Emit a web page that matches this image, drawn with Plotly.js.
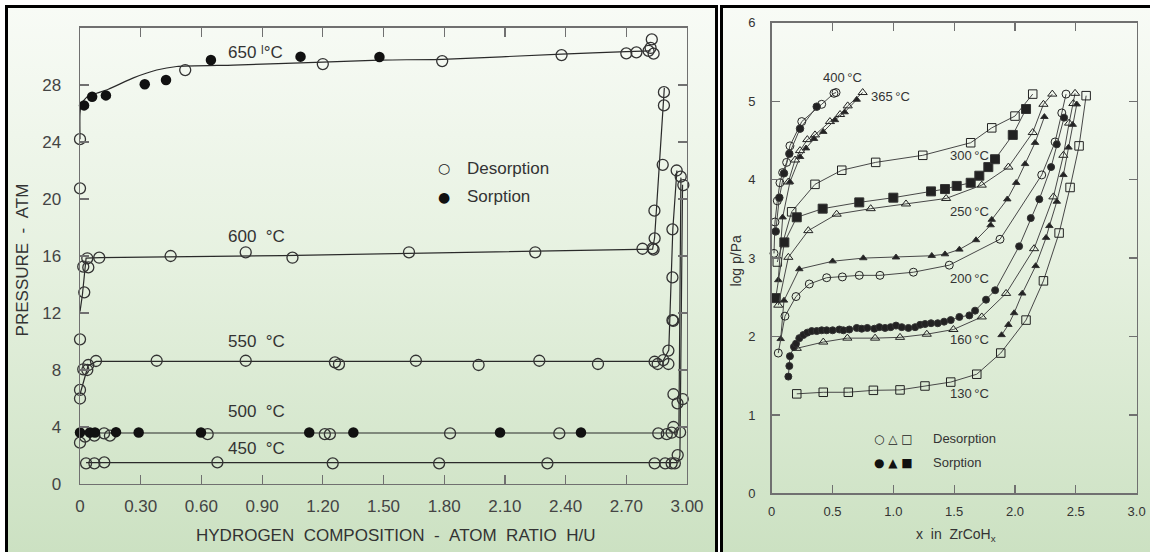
<!DOCTYPE html>
<html><head><meta charset="utf-8">
<script src="https://cdn.plot.ly/plotly-3.0.1.min.js"></script>
<style>
html,body{margin:0;padding:0;background:#fff;}
#wrap{position:relative;width:1150px;height:552px;overflow:hidden;background:#fff;}
.panel{position:absolute;top:5px;height:570px;border:3px solid #000;box-sizing:border-box;
 background:linear-gradient(to bottom,#f8fbf6 0%,#e6f1e0 45%,#cae0c0 100%);}
#p1{left:5px;width:713px;}
#p2{left:720px;width:450px;}
#chart{position:absolute;left:0;top:0;width:1150px;height:552px;}
</style></head>
<body><div id="wrap"><div class="panel" id="p1"></div><div class="panel" id="p2"></div><div id="chart"></div></div>
<script>
// ---------------- LEFT PANEL DATA (pressure, atm vs H/U) ----------------
const leftTickVals = [0,0.3,0.6,0.9,1.2,1.5,1.8,2.1,2.4,2.7,3.0];
const leftTickText = ['0','0.30','0.60','0.90','1.20','1.50','1.80','2.10','2.40','2.70','3.00'];
const leftYTicks = [0,4,8,12,16,20,24,28];

// 650 C
const d650x = [0,0,0.52,1.20,1.79,2.38,2.70,2.75,2.81,2.826,2.82,2.835];
const d650y = [24.2,20.75,29.05,29.47,29.68,30.1,30.22,30.29,30.39,31.2,30.6,30.2];
const s650x = [0.02,0.06,0.128,0.32,0.425,0.647,1.09,1.48];
const s650y = [26.57,27.18,27.27,28.05,28.35,29.75,29.99,29.97];
const f650x = [0,0,0.008,0.036,0.082,0.14,0.264,0.379,0.478,0.758,1.20,1.48,1.79,2.38,2.70,2.82];
const f650y = [24.2,26.0,26.7,27.18,27.42,27.7,28.5,29.05,29.3,29.4,29.6,29.75,29.8,30.17,30.34,30.4];
// 600 C
const d600x = [0.036,0.016,0.041,0.095,0.448,0.819,1.05,1.626,2.25,2.78,2.83,2.84,2.835,2.839,2.88,2.886,2.886,0.021,0];
const d600y = [15.84,15.25,15.2,15.88,16.0,16.26,15.88,16.26,16.26,16.51,16.54,17.24,16.45,19.18,22.4,27.5,26.57,13.45,10.15];
const f600x = [0.0,0.012,0.03,0.1,1.0,2.0,2.83,2.84,2.888];
const f600y = [12.1,13.3,15.85,15.88,16.03,16.27,16.48,17.3,27.8];
// 550 C
const d550x = [0,0,0.016,0.036,0.041,0.079,0.379,0.819,1.26,1.28,1.66,1.97,2.27,2.56,2.84,2.855,2.883,2.908,2.908,2.928,2.932,2.928,2.928,2.949];
const d550y = [6.6,6.0,8.05,8.0,8.35,8.63,8.65,8.65,8.54,8.4,8.65,8.35,8.65,8.42,8.58,8.42,8.7,8.42,9.36,11.5,11.45,14.5,17.87,22.0];
const f550x = [0.0,0.04,0.08,1.0,2.0,2.88,2.91,2.93,2.95];
const f550y = [6.3,8.3,8.6,8.6,8.6,8.6,9.4,17.9,22.0];
// 500 C
const d500x = [0,0.025,0.071,0.119,0.148,0.631,1.21,1.235,1.829,2.369,2.858,2.9,2.924,2.966,2.933,2.933,2.953,2.969];
const d500y = [2.9,3.32,3.39,3.55,3.39,3.5,3.5,3.5,3.55,3.55,3.55,3.5,3.6,3.63,4.0,6.3,5.66,21.57];
const s500x = [0,0.049,0.074,0.178,0.29,0.598,1.133,1.351,2.076,2.476];
const s500y = [3.62,3.62,3.62,3.64,3.62,3.62,3.62,3.62,3.62,3.62];
const f500x = [0,1.5,2.95,2.96,2.97];
const f500y = [3.58,3.58,3.58,4.0,21.5];
// 450 C
const d450x = [0.03,0.071,0.12,0.679,1.249,1.775,2.31,2.84,2.892,2.924,2.94,2.954,2.979,2.982];
const d450y = [1.45,1.45,1.52,1.52,1.45,1.45,1.45,1.45,1.45,1.45,1.45,2.03,5.96,20.98];
const f450x = [0.03,1.5,2.955,2.965,2.978];
const f450y = [1.5,1.5,1.5,2.0,21.0];

// ---------------- RIGHT PANEL DATA (log p/Pa vs x in ZrCoHx) ----------------
const rightXTickVals = [0,0.5,1.0,1.5,2.0,2.5,3.0];
const rightXTickText = ['0','0.5','1.0','1.5','2.0','2.5','3.0'];
const rightYTickVals = [0,1,2,3,4,5,6];

const d400x = [0.019,0.027,0.046,0.068,0.09,0.123,0.15,0.247,0.411,0.512,0.529];
const d400y = [3.06,3.46,3.73,3.96,4.09,4.22,4.43,4.74,4.96,5.10,5.11];
const s400x = [0.033,0.063,0.101,0.145,0.233,0.37];
const s400y = [3.34,3.77,4.08,4.33,4.65,4.93];

const d365x = [0.137,0.192,0.233,0.293,0.356,0.479,0.562,0.625,0.748];
const d365y = [3.97,4.25,4.37,4.51,4.57,4.74,4.83,4.94,5.11];
const s365x = [0.054,0.09,0.15,0.233,0.282,0.348,0.424,0.52,0.60,0.699];
const s365y = [2.72,3.52,3.97,4.29,4.40,4.52,4.61,4.76,4.86,5.02];

const d300x = [0.046,0.164,0.356,0.576,0.855,1.242,1.636,1.809,2.0,2.146];
const d300y = [2.95,3.59,3.94,4.12,4.22,4.31,4.47,4.66,4.81,5.09];
const s300x = [0.033,0.104,0.206,0.419,0.72,1.0,1.31,1.425,1.521,1.636,1.707,1.781,1.836,1.982,2.091];
const s300y = [2.49,3.20,3.52,3.63,3.71,3.77,3.85,3.88,3.92,3.96,4.05,4.16,4.26,4.57,4.90];

const d250x = [0.054,0.137,0.301,0.534,0.814,1.104,1.434,1.727,1.946,2.146,2.234,2.307];
const d250y = [2.40,3.01,3.35,3.56,3.63,3.69,3.76,3.93,4.16,4.60,4.96,5.09];
const s250x = [0.074,0.101,0.227,0.501,0.753,1.022,1.316,1.425,1.543,1.68,1.80,1.809,1.937,2.01,2.083,2.165,2.242];
const s250y = [1.97,2.46,2.86,2.96,3.0,3.01,3.03,3.05,3.11,3.23,3.42,3.49,3.75,3.96,4.20,4.47,4.80];

const d200x = [0.054,0.109,0.2,0.309,0.452,0.581,0.72,0.89,1.165,1.46,1.877,2.22,2.33,2.385,2.42];
const d200y = [1.79,2.26,2.51,2.67,2.75,2.76,2.78,2.78,2.82,2.91,3.24,4.06,4.48,4.85,5.09];

const s160x = [0.137,0.145,0.15,0.183,0.2,0.227,0.26,0.293,0.329,0.37,0.411,0.452,0.501,0.556,0.589,0.638,0.699,0.74,0.786,0.844,0.885,0.932,0.978,1.022,1.069,1.124,1.179,1.22,1.261,1.31,1.365,1.417,1.472,1.543,1.625,1.672,1.762,1.837,2.034,2.13,2.2,2.297,2.344,2.404];
const s160y = [1.49,1.625,1.75,1.87,1.91,1.98,2.02,2.05,2.07,2.07,2.08,2.08,2.08,2.09,2.08,2.09,2.11,2.10,2.11,2.10,2.12,2.11,2.12,2.14,2.12,2.11,2.12,2.15,2.16,2.17,2.17,2.19,2.21,2.25,2.27,2.33,2.47,2.59,3.15,3.51,3.75,4.16,4.45,4.79];
const d160x = [0.206,0.424,0.622,0.85,1.055,1.275,1.494,1.727,1.927,2.157,2.316,2.398,2.445,2.48,2.494];
const d160y = [1.85,1.93,1.98,1.98,1.99,2.03,2.09,2.25,2.55,3.12,3.78,4.31,4.72,4.97,5.10];

const d130x = [0.206,0.424,0.63,0.836,1.055,1.26,1.472,1.686,1.883,2.091,2.234,2.363,2.453,2.527,2.585];
const d130y = [1.27,1.29,1.29,1.315,1.32,1.37,1.42,1.52,1.79,2.21,2.71,3.32,3.90,4.43,5.07];
const s130x = [1.89,1.946,1.993,2.06,2.17,2.256,2.283,2.344,2.398,2.44,2.475,2.508];
const s130y = [2.02,2.15,2.30,2.55,2.90,3.26,3.41,3.72,4.06,4.41,4.70,4.96];

// ---------------- STYLE ----------------
const FONT = 'Liberation Sans, Arial, Helvetica, sans-serif';
const INK = '#2a2a2a';
const AX = '#707070';
const traces = [];

function leftLine(x, y, spline) {
  traces.push({x, y, xaxis:'x', yaxis:'y', type:'scatter', mode:'lines', hoverinfo:'skip',
    line:{color:INK, width:1.2, shape: spline ? 'spline' : 'linear', smoothing:0.5}, cliponaxis:false});
}
function leftMarks(x, y, filled) {
  traces.push({x, y, xaxis:'x', yaxis:'y', type:'scatter', mode:'markers', cliponaxis:false,
    marker: filled ? {symbol:'circle', size:10.5, color:'#111', line:{width:0}}
                   : {symbol:'circle-open', size:11, color:'#333', line:{width:1.3, color:'#333'}}});
}
leftLine(f650x, f650y, true); leftLine(f600x, f600y, false); leftLine(f550x, f550y, false);
leftLine(f500x, f500y, false); leftLine(f450x, f450y, false);
leftMarks(d650x, d650y, false); leftMarks(s650x, s650y, true);
leftMarks(d600x, d600y, false); leftMarks(d550x, d550y, false);
leftMarks(d500x, d500y, false); leftMarks(s500x, s500y, true);
leftMarks(d450x, d450y, false);

const SYM = {
  co:{symbol:'circle-open', size:8}, cf:{symbol:'circle', size:7.5},
  to:{symbol:'triangle-up-open', size:8}, tf:{symbol:'triangle-up', size:6.5},
  so:{symbol:'square-open', size:8.5}, sf:{symbol:'square', size:9},
  cs:{symbol:'circle', size:7}
};
function rightSeries(x, y, key) {
  const s = SYM[key];
  traces.push({x, y, xaxis:'x2', yaxis:'y2', type:'scatter', mode:'lines+markers', cliponaxis:false,
    line:{color:'#474747', width:1},
    marker:{symbol:s.symbol, size:s.size, color:'#222', line:{width:1, color:'#333'}}});
}
rightSeries(d400x, d400y, 'co'); rightSeries(s400x, s400y, 'cf');
rightSeries(d365x, d365y, 'to'); rightSeries(s365x, s365y, 'tf');
rightSeries(d300x, d300y, 'so'); rightSeries(s300x, s300y, 'sf');
rightSeries(d250x, d250y, 'to'); rightSeries(s250x, s250y, 'tf');
rightSeries(d200x, d200y, 'co');
rightSeries(s160x, s160y, 'cs'); rightSeries(d160x, d160y, 'to');
rightSeries(d130x, d130y, 'so'); rightSeries(s130x, s130y, 'tf');

const NB = '\u00a0';
function ann(text, x, y, xref, yref, size, opts) {
  return Object.assign({text, x, y, xref, yref, showarrow:false, xanchor:'left', yanchor:'middle',
    font:{family:FONT, size, color:'#333'}}, opts || {});
}
const annotations = [
  // left panel isotherm labels
  ann('650'+NB+'ˡ°C', 0.72, 30.25, 'x', 'y', 17),
  ann('600'+NB+NB+'°C', 0.72, 17.35, 'x', 'y', 17),
  ann('550'+NB+NB+'°C', 0.72, 10.0, 'x', 'y', 17),
  ann('500'+NB+NB+'°C', 0.72, 5.07, 'x', 'y', 17),
  ann('450'+NB+NB+'°C', 0.72, 2.46, 'x', 'y', 17),
  // left legend
  ann('○', 1.80, 22.15, 'x', 'y', 16, {xanchor:'center', font:{family:'DejaVu Sans', size:14, color:'#222'}}),
  ann('Desorption', 1.903, 22.15, 'x', 'y', 17),
  ann('●', 1.80, 20.16, 'x', 'y', 16, {xanchor:'center', font:{family:'DejaVu Sans', size:14, color:'#111'}}),
  ann('Sorption', 1.903, 20.16, 'x', 'y', 17),
  // left axis titles
  ann('HYDROGEN'+NB+NB+'COMPOSITION'+NB+NB+'-'+NB+NB+'ATOM'+NB+NB+'RATIO'+NB+NB+'H/U', 0.344, 0.029, 'paper', 'paper', 17, {xanchor:'center'}),
  ann('PRESSURE'+NB+NB+'-'+NB+NB+'ATM', 0.0191, 0.53, 'paper', 'paper', 17, {xanchor:'center', textangle:-90}),
  // right panel labels
  ann('400\u2009°C', 0.405, 5.30, 'x2', 'y2', 13),
  ann('365\u2009°C', 0.80, 5.06, 'x2', 'y2', 13),
  ann('300\u2009°C', 1.452, 4.31, 'x2', 'y2', 13),
  ann('250\u2009°C', 1.45, 3.60, 'x2', 'y2', 13),
  ann('200\u2009°C', 1.45, 2.74, 'x2', 'y2', 13),
  ann('160\u2009°C', 1.45, 1.965, 'x2', 'y2', 13),
  ann('130\u2009°C', 1.45, 1.268, 'x2', 'y2', 13),
  // right legend
  ann('○'+NB+'△'+NB+'□', 1.005, 0.69, 'x2', 'y2', 13, {xanchor:'center', font:{family:'DejaVu Sans', size:12, color:'#222'}}),
  ann('Desorption', 1.307, 0.705, 'x2', 'y2', 13),
  ann('●'+NB+'▲'+NB+'■', 1.005, 0.39, 'x2', 'y2', 13, {xanchor:'center', font:{family:'DejaVu Sans', size:12, color:'#111'}}),
  ann('Sorption', 1.307, 0.40, 'x2', 'y2', 13),
  // right axis titles
  ann('x'+NB+NB+'in'+NB+NB+'ZrCoH<sub>x</sub>', 0.8313, 0.031, 'paper', 'paper', 14, {xanchor:'center'}),
  ann('log p/Pa', 0.64, 0.528, 'paper', 'paper', 14, {xanchor:'center', textangle:-90})
];

const axBase = {showgrid:false, zeroline:false, showline:true, linecolor:AX, linewidth:1.5,
  ticks:'inside', ticklen:9, tickwidth:1.2, tickcolor:AX, mirror:'ticks', fixedrange:true};
const layout = {
  width:1150, height:552, margin:{l:0, r:0, t:0, b:0},
  paper_bgcolor:'rgba(0,0,0,0)', plot_bgcolor:'rgba(0,0,0,0)', showlegend:false,
  font:{family:FONT},
  xaxis:Object.assign({}, axBase, {domain:[0.06957,0.59739], anchor:'y', range:[0,3],
    tickmode:'array', tickvals:leftTickVals, ticktext:leftTickText, ticklabelstandoff:6,
    tickfont:{family:FONT, size:17, color:'#444'}}),
  yaxis:Object.assign({}, axBase, {domain:[0.12319,0.94928], anchor:'x', range:[0,32],
    tickmode:'array', tickvals:leftYTicks, ticktext:leftYTicks.map(String), ticklabelstandoff:14,
    tickfont:{family:FONT, size:17, color:'#444'}}),
  xaxis2:Object.assign({}, axBase, {domain:[0.67104,0.98835], anchor:'y2', range:[0,3], ticklen:8,
    tickmode:'array', tickvals:rightXTickVals, ticktext:rightXTickText, ticklabelstandoff:5,
    tickfont:{family:FONT, size:13, color:'#333'}}),
  yaxis2:Object.assign({}, axBase, {domain:[0.10598,0.95888], anchor:'x2', range:[0,6], ticklen:8,
    tickmode:'array', tickvals:rightYTickVals, ticktext:rightYTickVals.map(String), ticklabelstandoff:12,
    tickfont:{family:FONT, size:13, color:'#333'}}),
  annotations
};
Plotly.newPlot('chart', traces, layout, {displayModeBar:false, staticPlot:true});
</script></body></html>
